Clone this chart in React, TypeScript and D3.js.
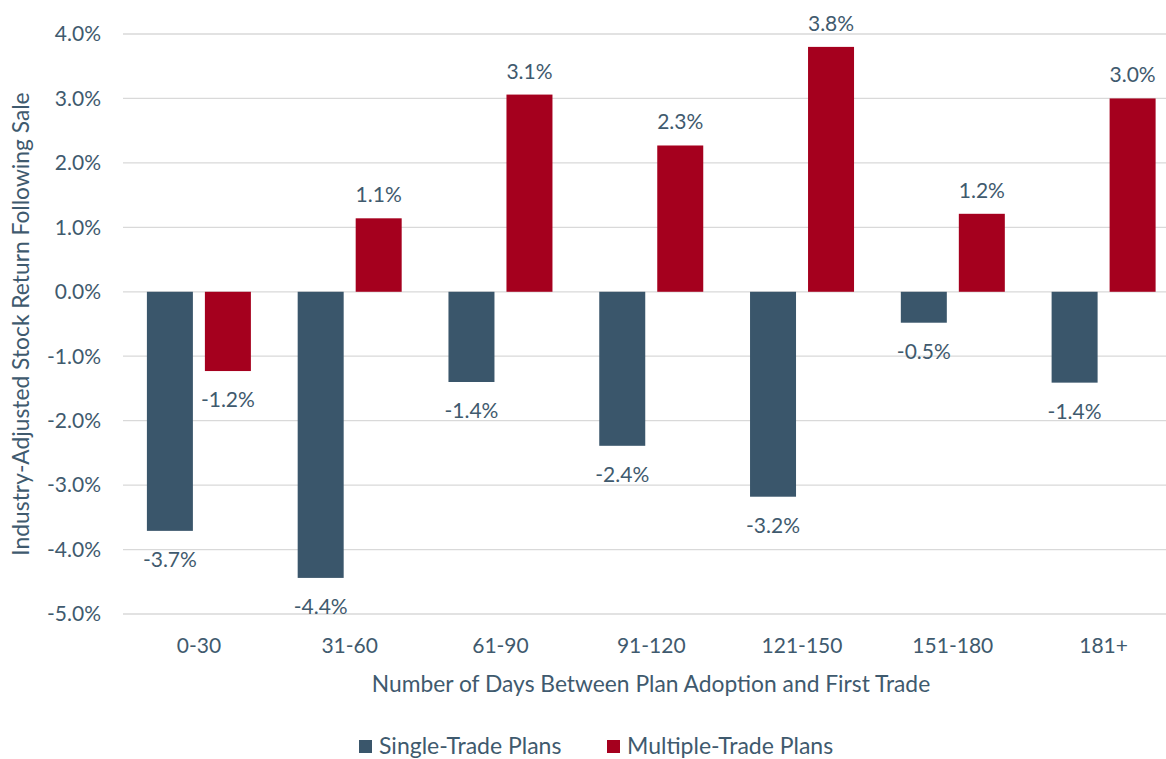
import React from "react";
import * as d3 from "d3";

const categories = ["0-30", "31-60", "61-90", "91-120", "121-150", "151-180", "181+"];
const singleTrade = [-3.71, -4.44, -1.4, -2.39, -3.18, -0.48, -1.41];
const multipleTrade = [-1.23, 1.14, 3.06, 2.27, 3.8, 1.21, 3.0];
const yTicks = [4, 3, 2, 1, 0, -1, -2, -3, -4, -5];
const seriesNames = ["Single-Trade Plans", "Multiple-Trade Plans"];

const W = 1166;
const H = 759;
const FONT = "'Source Sans Pro', Lato, 'Open Sans', sans-serif";
const TEXT = "#3F5A6E";
const COLORS = ["#3A566B", "#A5001E"];

export default function App() {
  const y = d3.scaleLinear().domain([-5, 4]).range([614, 34]);
  const x = d3.scaleBand<string>().domain(categories).range([123.5, 1179]).paddingInner(0).paddingOuter(0);
  const bw = x.bandwidth();
  const inner = d3
    .scaleBand<string>()
    .domain(["s", "m"])
    .range([(bw - 104) / 2, (bw + 104) / 2])
    .paddingInner(0.207)
    .paddingOuter(0);
  const fmt = (v: number) => v.toFixed(1) + "%";
  const series = [singleTrade, multipleTrade];
  const keys = ["s", "m"];

  return (
    <svg width={W} height={H} style={{ position: "absolute", left: 0, top: 0 }} fontFamily={FONT}>
      <rect width={W} height={H} fill="#fff" />
      {yTicks.map((t) => (
        <g key={t}>
          <line x1={123} x2={W} y1={y(t)} y2={y(t)} stroke="#D9D9D9" strokeWidth={1.3} />
          <text x={101} y={y(t)} dy="0.35em" textAnchor="end" fontSize={21} fill={TEXT}>
            {t.toFixed(1) + "%"}
          </text>
        </g>
      ))}
      {categories.map((c, i) => (
        <g key={c} transform={`translate(${x(c)},0)`}>
          {series.map((s, k) => {
            const v = s[i];
            const bx = inner(keys[k])!;
            const top = Math.min(y(v), y(0));
            const h = Math.abs(y(v) - y(0));
            const cx = bx + inner.bandwidth() / 2;
            return (
              <g key={k}>
                <rect x={bx} y={top} width={inner.bandwidth()} height={h} fill={COLORS[k]} />
                <text
                  x={cx}
                  y={v >= 0 ? y(v) - 16 : y(v) + 36}
                  textAnchor="middle"
                  fontSize={21}
                  fill={TEXT}
                >
                  {fmt(v)}
                </text>
              </g>
            );
          })}
          <text x={bw / 2} y={653} textAnchor="middle" fontSize={21} fill={TEXT}>
            {c}
          </text>
        </g>
      ))}
      <text x={651} y={692} textAnchor="middle" fontSize={22.8} fill={TEXT}>
        Number of Days Between Plan Adoption and First Trade
      </text>
      <text
        transform={`translate(29,324) rotate(-90)`}
        textAnchor="middle"
        fontSize={22.8}
        fill={TEXT}
      >
        Industry-Adjusted Stock Return Following Sale
      </text>
      {seriesNames.map((n, k) => {
        const lx = k === 0 ? 359 : 607;
        return (
          <g key={n}>
            <rect x={lx} y={740} width={13} height={13} fill={COLORS[k]} />
            <text x={lx + 20} y={754} fontSize={23} fill={TEXT}>
              {n}
            </text>
          </g>
        );
      })}
    </svg>
  );
}
